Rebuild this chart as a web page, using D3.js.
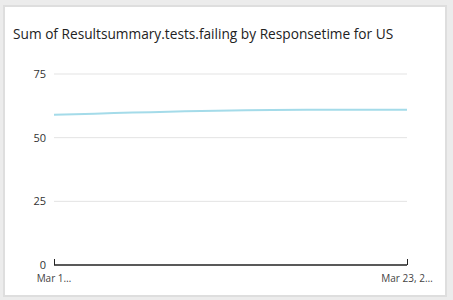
<!DOCTYPE html>
<html>
<head>
<meta charset="utf-8">
<script src="https://cdn.jsdelivr.net/npm/d3@7"></script>
<style>
body { margin: 0; background: #ececec; font-family: "Open Sans", "DejaVu Sans", sans-serif; }
.card { position: absolute; left: 3px; top: 5px; width: 440px; height: 288px; background: #fff; border: 2px solid #dedede; }
</style>
</head>
<body>
<div class="card"></div>
<svg id="chart" width="453" height="300" style="position:absolute;left:0;top:0"></svg>
<script>
var title = "Sum of Resultsummary.tests.failing by Responsetime for US";
var dates = ["2021-03-16", "2021-03-21", "2021-03-23"];
var failing = [59, 61, 61];
var yTicks = [0, 25, 50, 75];
var xTickLabels = ["Mar 1\u2026", "Mar 23, 2\u2026"];

var parse = d3.timeParse("%Y-%m-%d");
var data = dates.map(function(d, i) { return { date: parse(d), value: failing[i] }; });

var svg = d3.select("#chart");
var plotLeft = 54, plotRight = 407, plotTop = 74, plotBottom = 265;

var x = d3.scaleTime()
	.domain(d3.extent(data, function(d) { return d.date; }))
	.range([plotLeft, plotRight]);
var y = d3.scaleLinear().domain([0, 75]).range([plotBottom, plotTop]);

svg.append("text")
	.attr("x", 13).attr("y", 39)
	.attr("font-size", 13.7)
	.attr("fill", "#222")
	.text(title);

// grid lines
svg.append("g").selectAll("line")
	.data(yTicks.filter(function(t) { return t > 0; }))
	.enter().append("line")
	.attr("x1", plotLeft).attr("x2", plotRight)
	.attr("y1", function(d) { return y(d); })
	.attr("y2", function(d) { return y(d); })
	.attr("stroke", "#e3e3e3");

// y labels
svg.append("g").selectAll("text")
	.data(yTicks)
	.enter().append("text")
	.attr("x", 46)
	.attr("y", function(d) { return y(d) + 4; })
	.attr("text-anchor", "end")
	.attr("font-size", 11)
	.attr("fill", "#333")
	.text(function(d) { return d; });

// x axis
var xAxis = d3.axisTop(x)
	.tickValues(d3.extent(data, function(d) { return d.date; }))
	.tickSize(6)
	.tickFormat("");
var gx = svg.append("g").attr("transform", "translate(0," + plotBottom + ")").call(xAxis);
gx.select(".domain").attr("stroke", "#222").attr("stroke-width", 1.5).attr("d", "M" + plotLeft + ",0H" + plotRight);
gx.selectAll(".tick line").attr("stroke", "#222");

svg.append("g").selectAll("text")
	.data(d3.extent(data, function(d) { return d.date; }))
	.enter().append("text")
	.attr("x", function(d) { return x(d); })
	.attr("y", 282)
	.attr("text-anchor", "middle")
	.attr("font-size", 10)
	.attr("fill", "#444")
	.text(function(d, i) { return xTickLabels[i]; });

var line = d3.line()
	.curve(d3.curveMonotoneX)
	.x(function(d) { return x(d.date); })
	.y(function(d) { return y(d.value); });

svg.append("path")
	.datum(data)
	.attr("d", line)
	.attr("fill", "none")
	.attr("stroke", "#a4dbe9")
	.attr("stroke-width", 2);
</script>
</body>
</html>
